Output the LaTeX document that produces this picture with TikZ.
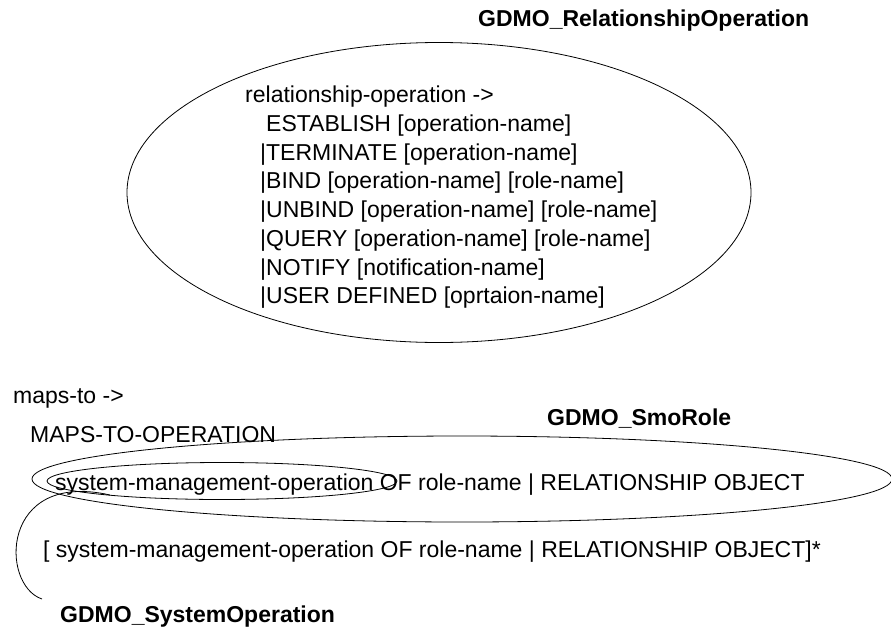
\documentclass[tikz,border=0pt]{standalone}
\usepackage{fontspec}
\setmainfont{Liberation Sans}
\begin{document}
\begin{tikzpicture}[x=1pt,y=-1pt,
  lbl/.style={inner sep=0pt,anchor=base west,font=\fontsize{23}{28}\selectfont\bfseries},
  txt/.style={inner sep=0pt,anchor=base west,font=\fontsize{23}{28}\selectfont},
  shp/.style={draw=black,line width=0.8pt}]
\useasboundingbox (0,0) rectangle (891,629);
% top ellipse
\draw[shp] (439,192.5) ellipse [x radius=312, y radius=150];
\node[lbl] (relop) at (478,27) {GDMO\_RelationshipOperation};
\node[inner sep=0pt,anchor=north west,align=left,font=\fontsize{23}{28.7}\selectfont] (ops) at (245,86)
 {relationship-operation ->\\
  \hspace*{21pt}ESTABLISH [operation-name]\\
  \hspace*{15pt}|TERMINATE [operation-name]\\
  \hspace*{15pt}|BIND [operation-name] [role-name]\\
  \hspace*{15pt}|UNBIND [operation-name] [role-name]\\
  \hspace*{15pt}|QUERY [operation-name] [role-name]\\
  \hspace*{15pt}|NOTIFY [notification-name]\\
  \hspace*{15pt}|USER DEFINED [oprtaion-name]};
% bottom
\node[txt] (maps) at (13,403) {maps-to ->};
\node[txt] (mto) at (30,442) {MAPS-TO-OPERATION};
\node[lbl] (smorole) at (547,425) {GDMO\_SmoRole};
\draw[shp] (462,479) ellipse [x radius=430, y radius=43];
\draw[shp] (222,481) ellipse [x radius=175, y radius=18.5];
\node[txt] (smo) at (55,490) {system-management-operation OF role-name | RELATIONSHIP OBJECT};
\node[txt] (smo2) at (43,557) {[ system-management-operation OF role-name | RELATIONSHIP OBJECT]*};
\node[lbl] (sysop) at (60,622) {GDMO\_SystemOperation};
\coordinate (arcA) at (42,599);
\coordinate (arcB) at (110,495);
\draw[shp] (arcA) .. controls (0,585) and (0,470) .. (arcB);
\end{tikzpicture}
\end{document}
